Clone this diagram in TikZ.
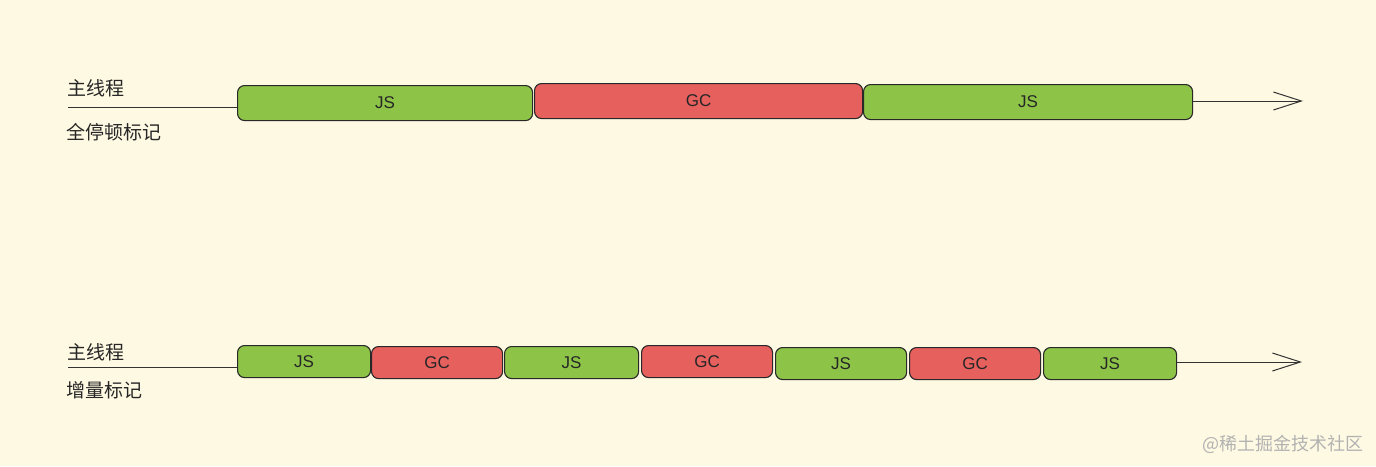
\documentclass[tikz,border=0pt]{standalone}
\usepackage{fontspec}
\setmainfont{Liberation Sans}
\newfontfamily\cjk{Noto Sans CJK SC}
\usetikzlibrary{arrows.meta}
\definecolor{bgc}{RGB}{254,249,226}
\definecolor{jsg}{RGB}{141,196,72}
\definecolor{gcr}{RGB}{230,96,94}
\definecolor{edge}{RGB}{40,40,40}
\tikzset{
  seg/.style={draw=edge, line width=1.1pt, rounded corners=7pt, inner sep=0pt, anchor=north west, font=\fontsize{17}{19}\selectfont, text=black!85},
  jsbox/.style={seg, fill=jsg},
  gcbox/.style={seg, fill=gcr},
  lab/.style={font=\cjk\fontsize{19}{21}\selectfont, text=black!85, anchor=west, inner sep=0pt},
  tl/.style={draw=black!80, line width=1pt},
  arr/.style={tl, -{Straight Barb[length=28pt, width=18pt, line width=1pt]}}
}
\begin{document}
\begin{tikzpicture}[x=1pt, y=-1pt]
\fill[bgc] (0,0) rectangle (1376,466);
\useasboundingbox (0,0) rectangle (1376,466);
% top row
\node[lab] (t1) at (67,88) {主线程};
\node[lab] (t2) at (66,132) {全停顿标记};
\coordinate (ts) at (68,107);
\node[jsbox, minimum width=295pt, minimum height=35pt] (a1) at (237,85) {JS};
\node[gcbox, minimum width=328pt, minimum height=35pt] (a2) at (534,83) {GC};
\node[jsbox, minimum width=329pt, minimum height=35pt] (a3) at (863,84) {JS};
\coordinate (te) at (1303,101);
\draw[tl] (ts) -- (ts -| a1.west);
\draw[arr] (a3.east |- te) -- (te);
% bottom row
\node[lab] (b1) at (67,352) {主线程};
\node[lab] (b2) at (66,390) {增量标记};
\coordinate (bs) at (68,367);
\node[jsbox, minimum width=133pt, minimum height=32pt] (c1) at (237,345) {JS};
\node[gcbox, minimum width=131pt, minimum height=32pt] (c2) at (371,346) {GC};
\node[jsbox, minimum width=134pt, minimum height=32pt] (c3) at (504,346) {JS};
\node[gcbox, minimum width=131pt, minimum height=32pt] (c4) at (641,345) {GC};
\node[jsbox, minimum width=131pt, minimum height=32pt] (c5) at (775,347) {JS};
\node[gcbox, minimum width=131pt, minimum height=32pt] (c6) at (909,347) {GC};
\node[jsbox, minimum width=133pt, minimum height=32pt] (c7) at (1043,347) {JS};
\coordinate (be) at (1302,362);
\draw[tl] (bs) -- (bs -| c1.west);
\draw[arr] (c7.east |- be) -- (be);
% watermark
\node[font=\cjk\fontsize{18}{20}\selectfont, text=black!30, anchor=west, inner sep=0pt] (w1) at (1202,444) {@稀土掘金技术社区};
\end{tikzpicture}
\end{document}
